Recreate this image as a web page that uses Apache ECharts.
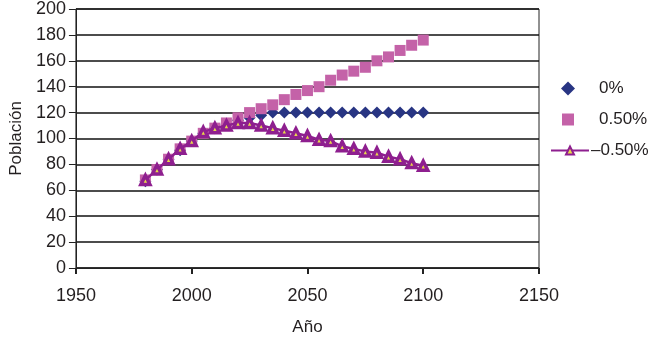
<!DOCTYPE html>
<html>
<head>
<meta charset="utf-8">
<script src="https://cdn.jsdelivr.net/npm/echarts@6/dist/echarts.min.js"></script>
<style>html,body{margin:0;padding:0;background:#fff}#c{width:650px;height:341px}</style>
</head>
<body>
<div id="c"></div>
<script>
const years = [1980,1985,1990,1995,2000,2005,2010,2015,2020,2025,2030,2035,2040,2045,2050,2055,2060,2065,2070,2075,2080,2085,2090,2095,2100];
const pop0 = [67,76,84,91,98,104,108,111,114,116,118,120,120,120,120,120,120,120,120,120,120,120,120,120,120];
const popPlus = [68,76,84,92,98,104,108,112,116,120,123,126,130,134,137,140,145,149,152,155,160,163,168,172,176];
const popMinus = [68,76,84,92,98,105,108,110,112,112,110,108,106,104,102,99,98,94,92,90,89,86,84,81,79];
const xTicks = [1950,2000,2050,2100,2150];
const yTicks = [0,20,40,60,80,100,120,140,160,180,200];
const names = ['0%','0.50%','\u20130.50%'];

const zip = (a) => years.map((y,i)=>[y,a[i]]);
const font = 'Liberation Sans, Arial, sans-serif';
const txt = '#231f20';
const legendText = {fontFamily:font,fontSize:17,color:txt};
const chart = echarts.init(document.getElementById('c'), null, {renderer:'canvas'});
chart.setOption({
  animation:false,
  backgroundColor:'#fff',
  grid:{left:74,right:111,top:8,bottom:70,show:true,borderColor:'#222',borderWidth:1,backgroundColor:'transparent'},
  legend:[
    {left:556, top:75, itemWidth:14, itemHeight:14, data:[names[0]], textStyle:Object.assign({padding:[0,0,0,19]},legendText)},
    {left:557, top:106, itemWidth:12, itemHeight:12, data:[names[1]], textStyle:Object.assign({padding:[0,0,0,20]},legendText)},
    {left:545, top:137, itemWidth:38, itemHeight:10, data:[names[2]], textStyle:Object.assign({padding:[0,0,0,-3]},legendText)}
  ],
  xAxis:{
    type:'value', min:xTicks[0], max:xTicks[xTicks.length-1], interval:50,
    name:'Año', nameLocation:'middle', nameGap:51,
    nameTextStyle:{fontFamily:font,fontSize:17,color:txt},
    axisLine:{show:true,lineStyle:{color:'#222',width:1}},
    axisTick:{show:true,length:6,lineStyle:{color:'#222',width:2}},
    axisLabel:{fontFamily:font,fontSize:18,color:txt,margin:19,formatter:(v)=>String(v)},
    splitLine:{show:false}
  },
  yAxis:{
    type:'value', min:yTicks[0], max:yTicks[yTicks.length-1], interval:20,
    name:'Población', nameLocation:'middle', nameGap:50,
    nameTextStyle:{fontFamily:font,fontSize:17,color:txt},
    axisLine:{show:true,lineStyle:{color:'#222',width:1}},
    axisTick:{show:true,length:7,lineStyle:{color:'#222'}},
    axisLabel:{fontFamily:font,fontSize:18,color:txt,margin:10},
    splitLine:{show:true,lineStyle:{color:'#111',width:1.5}}
  },
  series:[
    {name:names[0], type:'scatter', data:zip(pop0), symbol:'diamond', symbolSize:12,
     itemStyle:{color:'#283583',opacity:1}},
    {name:names[1], type:'scatter', data:zip(popPlus), symbol:'rect', symbolSize:11,
     itemStyle:{color:'#c462a8',opacity:1}},
    {name:names[2], type:'line', data:zip(popMinus), symbol:'triangle', symbolSize:9,
     lineStyle:{color:'#8e1f8f',width:2.5},
     itemStyle:{color:'#e8d84a',borderColor:'#8e1f8f',borderWidth:3.5}}
  ]
});
</script>
</body>
</html>
